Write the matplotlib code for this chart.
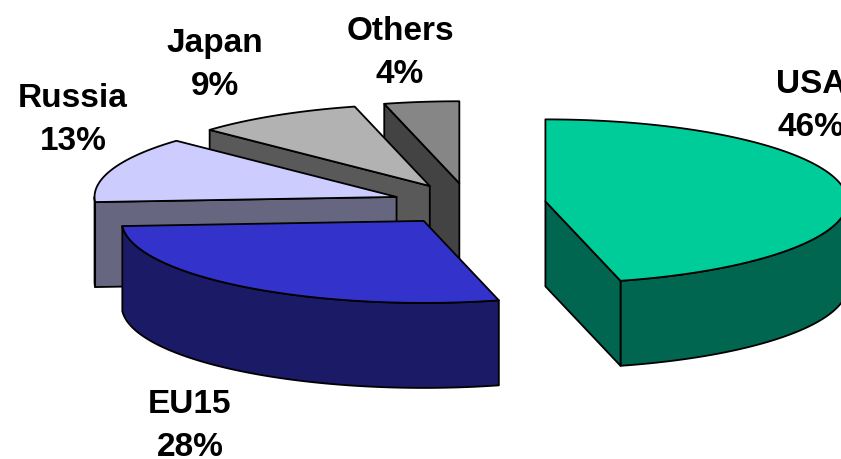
import numpy as np
import matplotlib.pyplot as plt
from matplotlib.patches import Polygon

regions = ["USA", "EU15", "Russia", "Japan", "Others"]
shares = [46, 28, 13, 9, 4]
pct_labels = ["46%", "28%", "13%", "9%", "4%"]
top_colors = ["#00CC99", "#3333CC", "#CCCCFF", "#B2B2B2", "#868686"]
side_colors = ["#006650", "#1A1A66", "#666680", "#595959", "#434343"]

# label anchors: x centre and baseline of the first line (pixel space)
label_pos = [(811, 93), (190, 413), (73, 107), (215, 52), (400, 40)]
line_gap = 43

W, H = 841, 459
cx, cy = 469, 204      # pie centre on screen
rx, ry = 302, 82       # projected radii of the tilted disc
depth = 85             # thickness of the disc
explode = 0.255        # every slice is pulled out by this fraction of the radius


def rim(ox, oy, th):
    th = np.radians(th)
    return ox + rx * np.sin(th), oy - ry * np.cos(th)


fig = plt.figure(figsize=(W / 100, H / 100), dpi=100)
ax = fig.add_axes([0, 0, 1, 1])
ax.set_xlim(0, W)
ax.set_ylim(H, 0)
ax.axis("off")

total = float(sum(shares))
bounds = np.concatenate([[0], np.cumsum(shares)]) * 360 / total
mids = (bounds[:-1] + bounds[1:]) / 2

# paint from the back of the disc to the front
order = sorted(range(len(shares)), key=lambda i: -np.cos(np.radians(mids[i])))
edge = dict(edgecolor="black", linewidth=1.3, joinstyle="round")
z = 1
for i in order:
    t1, t2 = bounds[i], bounds[i + 1]
    ox, oy = rim(cx, cy, mids[i])
    ox, oy = cx + (ox - cx) * explode, cy + (oy - cy) * explode

    # outer curved wall, only the part facing the viewer
    a, b = max(t1, 90), min(t2, 270)
    if b > a:
        th = np.linspace(a, b, 200)
        xs, ys = rim(ox, oy, th)
        pts = np.column_stack([np.r_[xs, xs[::-1]], np.r_[ys, ys[::-1] + depth]])
        ax.add_patch(Polygon(pts, closed=True, facecolor=side_colors[i], zorder=z, **edge))
    # radial walls
    for t, visible in ((t1, np.sin(np.radians(t1)) < -1e-6), (t2, np.sin(np.radians(t2)) > 1e-6)):
        if visible:
            px, py = rim(ox, oy, t)
            pts = [(ox, oy), (px, py), (px, py + depth), (ox, oy + depth)]
            ax.add_patch(Polygon(pts, closed=True, facecolor=side_colors[i], zorder=z, **edge))
    # top face
    th = np.linspace(t1, t2, 200)
    xs, ys = rim(ox, oy, th)
    pts = np.column_stack([np.r_[ox, xs], np.r_[oy, ys]])
    ax.add_patch(Polygon(pts, closed=True, facecolor=top_colors[i], zorder=z + 0.5, **edge))
    z += 1

for name, pct, (lx, ly) in zip(regions, pct_labels, label_pos):
    for k, s in enumerate((name, pct)):
        ax.text(lx, ly + k * line_gap, s, ha="center", va="baseline",
                fontsize=24, fontweight="bold", family="Liberation Sans", zorder=20)

fig.savefig("out.png", dpi=100)
